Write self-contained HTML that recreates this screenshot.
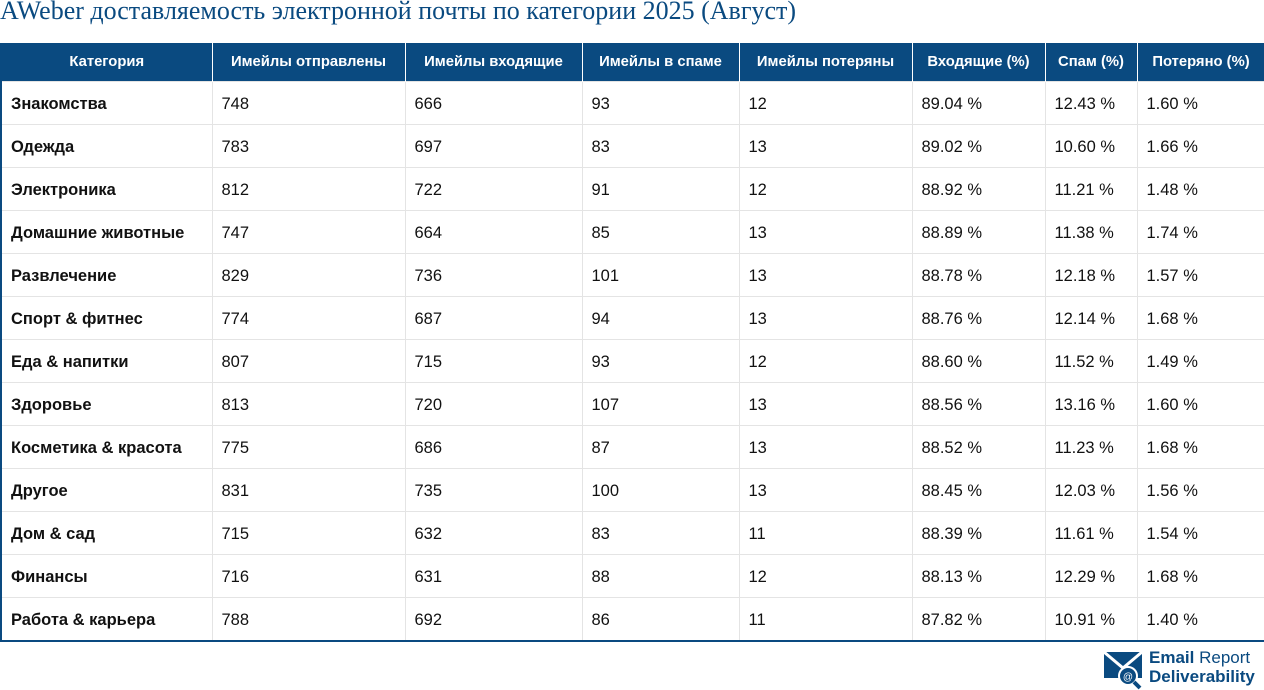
<!DOCTYPE html>
<html><head><meta charset="utf-8">
<style>
body{margin:0;width:1264px;height:689px;background:#fff;position:relative;overflow:hidden;font-family:"Liberation Sans","DejaVu Sans",sans-serif}
h1{position:absolute;left:0;top:-4px;margin:0;font:400 26px "Liberation Serif",serif;color:#0a4a80;white-space:nowrap}
table{position:absolute;left:0;top:43px;border-collapse:collapse;table-layout:fixed;width:1264px;border-left:2px solid #0a4a80;border-right:1px solid #0a4a80;border-bottom:2px solid #0a4a80}
th{background:#0a4a80;color:#fff;font-size:14.8px;font-weight:bold;height:38px;padding:0;border-right:1px solid #fff;text-align:center;white-space:nowrap}
th:last-child{border-right:none}
td{height:39px;padding:3px 0 0 9px;font-size:16.5px;color:#111;border-right:1px solid #e4e4e4;border-top:1px solid #e4e4e4;white-space:nowrap;box-sizing:content-box;vertical-align:middle}
td:first-child{font-weight:bold}
.logo{position:absolute;left:1104px;top:650px}
.lt{position:absolute;left:1149px;top:648px;color:#0a4a80;font-size:17px;line-height:19px;font-weight:bold}
</style></head><body>
<h1>AWeber доставляемость электронной почты по категории 2025 (Август)</h1>
<table>
<colgroup><col style="width:211px"><col style="width:193px"><col style="width:177px"><col style="width:157px"><col style="width:173px"><col style="width:133px"><col style="width:92px"><col style="width:128px"></colgroup>
<thead><tr><th>Категория</th><th>Имейлы отправлены</th><th>Имейлы входящие</th><th>Имейлы в спаме</th><th>Имейлы потеряны</th><th>Входящие (%)</th><th>Спам (%)</th><th>Потеряно (%)</th></tr></thead>
<tbody id="tb"></tbody></table>
<svg class="logo" width="42" height="40" viewBox="0 0 42 40">
<rect x="0" y="2" width="38" height="26" fill="#0a4a80"/>
<polyline points="0,2 19,18 38,2" fill="none" stroke="#fff" stroke-width="3"/>
<circle cx="24" cy="26" r="9" fill="#0a4a80" stroke="#fff" stroke-width="2"/>
<text x="24" y="30" font-size="10" fill="#fff" text-anchor="middle" font-family="Liberation Sans">@</text>
<line x1="30" y1="32" x2="36" y2="38" stroke="#0a4a80" stroke-width="4"/>
</svg>
<div class="lt">Email <span style="font-weight:normal">Report</span><br>Deliverability</div>
<script>
const categories=["Знакомства","Одежда","Электроника","Домашние животные","Развлечение","Спорт & фитнес","Еда & напитки","Здоровье","Косметика & красота","Другое","Дом & сад","Финансы","Работа & карьера"];
const sent=[748,783,812,747,829,774,807,813,775,831,715,716,788];
const inbox=[666,697,722,664,736,687,715,720,686,735,632,631,692];
const spam=[93,83,91,85,101,94,93,107,87,100,83,88,86];
const lost=[12,13,12,13,13,13,12,13,13,13,11,12,11];
const inboxPct=["89.04","89.02","88.92","88.89","88.78","88.76","88.60","88.56","88.52","88.45","88.39","88.13","87.82"];
const spamPct=["12.43","10.60","11.21","11.38","12.18","12.14","11.52","13.16","11.23","12.03","11.61","12.29","10.91"];
const lostPct=["1.60","1.66","1.48","1.74","1.57","1.68","1.49","1.60","1.68","1.56","1.54","1.68","1.40"];
const tb=document.getElementById('tb');
categories.forEach((c,i)=>{
const tr=document.createElement('tr');


[c,sent[i],inbox[i],spam[i],lost[i],inboxPct[i]+' %',spamPct[i]+' %',lostPct[i]+' %'].forEach(v=>{
const td=document.createElement('td');


td.textContent=v;tr.appendChild(td);});
tb.appendChild(tr);});
</script>
</body></html>
